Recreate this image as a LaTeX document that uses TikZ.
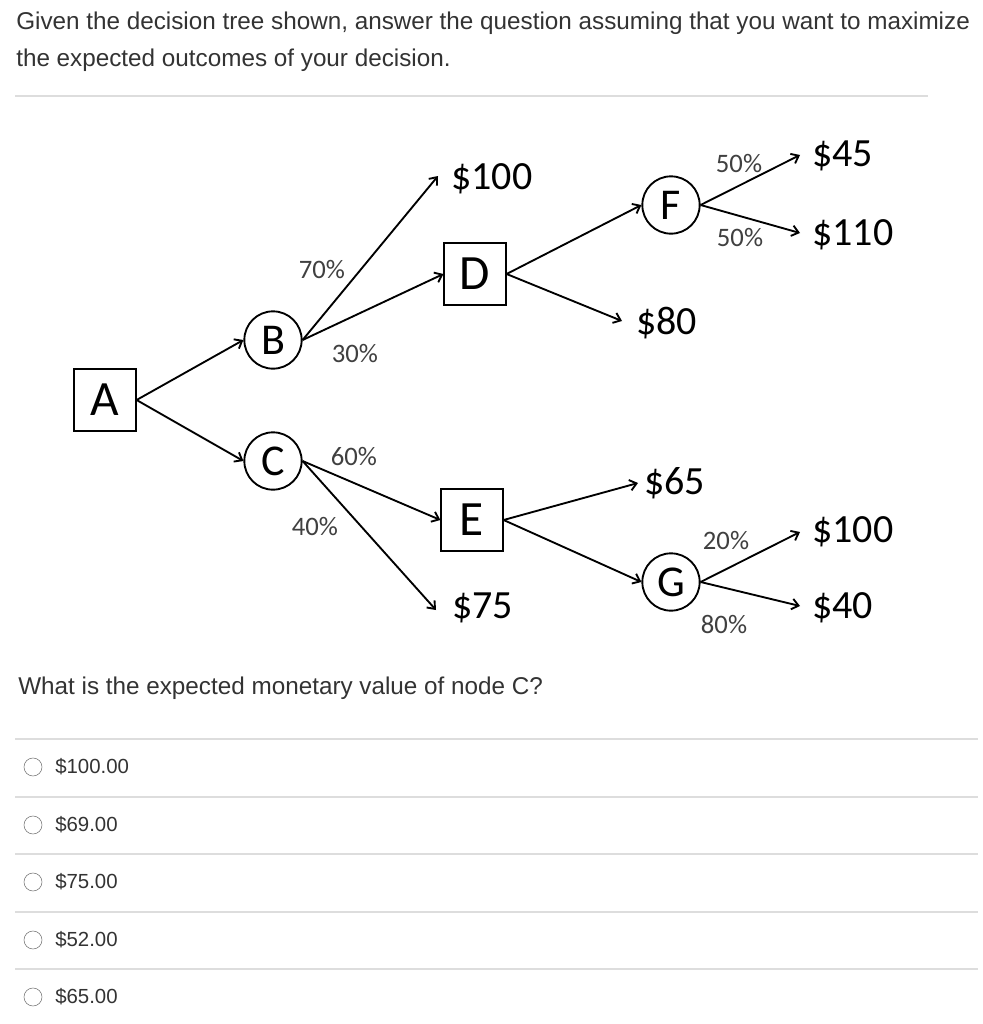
\documentclass[tikz,border=0pt]{standalone}
\usepackage{fontspec}
\setmainfont{Liberation Sans}
\newfontfamily\carfont{Carlito}
\usetikzlibrary{arrows.meta}
\definecolor{txt}{HTML}{333333}
\definecolor{sep}{HTML}{DDDDDD}
\begin{document}
\begin{tikzpicture}[x=0.75pt,y=-0.75pt,
  dec/.style={draw,line width=1.4pt,minimum width=46pt,minimum height=46pt,inner sep=0pt,font=\carfont\fontsize{37}{40}\selectfont},
  chance/.style={draw,line width=1.4pt,circle,minimum size=43pt,inner sep=0pt,font=\carfont\fontsize{33}{36}\selectfont},
  val/.style={inner sep=0pt,anchor=west,font=\carfont\fontsize{30}{32}\selectfont},
  pct/.style={inner sep=0pt,text=black!75,font=\carfont\fontsize{20}{22}\selectfont},
  arr/.style={line width=1.4pt,-{Straight Barb[length=5pt,width=8pt]}},
  q/.style={inner sep=0pt,anchor=base west,text=txt,font=\fontsize{18.2}{20}\selectfont},
  opt/.style={inner sep=0pt,anchor=base west,text=txt,font=\fontsize{15.3}{18}\selectfont},
  radio/.style={draw=black!55,circle,minimum size=13.5pt,inner sep=0pt},
  sepl/.style={draw=sep,line width=0.8pt}]
\useasboundingbox[fill=white] (0,0) rectangle (982,1024);
\node[q] (t1) at (16,30) {Given the decision tree shown, answer the question assuming that you want to maximize};
\node[q] (t2) at (16,67) {the expected outcomes of your decision.};
\draw[sepl] (15,96) -- (928,96);
% tree
\node[dec] (A) at (105,400) {A};
\node[chance] (B) at (273,340) {B};
\node[chance] (C) at (273,461) {C};
\node[dec] (D) at (475,274) {D};
\node[dec] (E) at (472,520) {E};
\node[chance] (F) at (671,205) {F};
\node[chance] (G) at (671,582) {G};
\node[val] (v100) at (451,179) {\$100};
\node[val] (v75) at (452,608) {\$75};
\node[val] (v80) at (636,323) {\$80};
\node[val] (v65) at (644,483) {\$65};
\node[val] (v45) at (812,156) {\$45};
\node[val] (v110) at (812,235) {\$110};
\node[val] (v100b) at (812,532) {\$100};
\node[val] (v40) at (812,608) {\$40};
\coordinate (e100) at (438,176);
\coordinate (e75) at (436,610);
\coordinate (e80) at (622,321);
\coordinate (e65) at (638,483);
\coordinate (e45) at (800,155);
\coordinate (e110) at (800,233);
\coordinate (e100b) at (800,532);
\coordinate (e40) at (800,606);
\draw[arr] (A.east) -- (B.west);
\draw[arr] (A.east) -- (C.west);
\draw[arr] (B.east) -- (e100);
\draw[arr] (B.east) -- (D.west);
\draw[arr] (C.east) -- (E.west);
\draw[arr] (C.east) -- (e75);
\draw[arr] (D.east) -- (F.west);
\draw[arr] (D.east) -- (e80);
\draw[arr] (E.east) -- (e65);
\draw[arr] (E.east) -- (G.west);
\draw[arr] (F.east) -- (e45);
\draw[arr] (F.east) -- (e110);
\draw[arr] (G.east) -- (e100b);
\draw[arr] (G.east) -- (e40);
\node[pct] (p70) at (322,270) {70\%};
\node[pct] (p30) at (355,354) {30\%};
\node[pct] (p60) at (354,457) {60\%};
\node[pct] (p40) at (315,527) {40\%};
\node[pct] (p50a) at (739,164) {50\%};
\node[pct] (p50b) at (740,238) {50\%};
\node[pct] (p20) at (726,541) {20\%};
\node[pct] (p80) at (724,624) {80\%};
% question
\node[q] (qq) at (18,694) {What is the expected monetary value of node C?};
\draw[sepl] (15,739) -- (978,739);
\foreach \y/\t [count=\i] in {767/\$100.00,825/\$69.00,882/\$75.00,940/\$52.00,997/\$65.00}{
  \node[radio] (r\i) at (33,\y) {};
  \node[opt] (o\i) at (55,\y+6) {\t};
}
\foreach \y in {797,854,912,969}{ \draw[sepl] (15,\y) -- (978,\y); }
\end{tikzpicture}
\end{document}
